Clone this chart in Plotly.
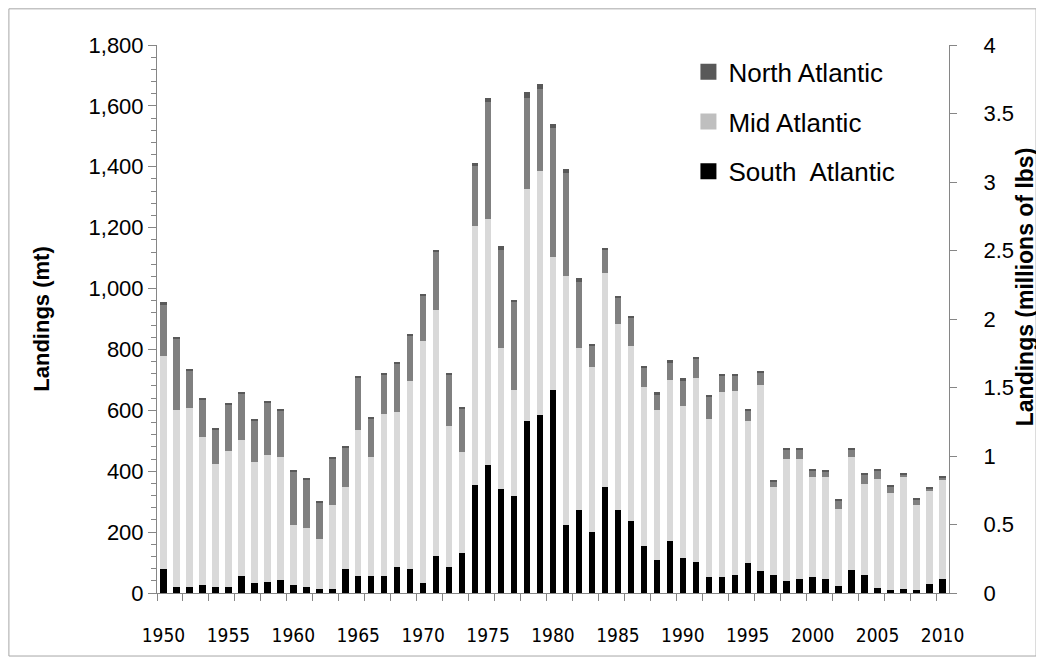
import plotly.graph_objects as go

# ============================================================
# Data (landings in metric tons, by region)
# ============================================================

years = list(range(1950, 2011))

south_atlantic = [
    79, 21, 21, 26, 21, 21, 56, 32, 37, 43,
    26, 21, 14, 14, 79, 56, 56, 56, 84, 79,
    32, 120, 84, 131, 354, 419, 343, 319, 566, 584,
    666, 225, 272, 202, 349, 272, 237, 155, 109, 172,
    114, 102, 53, 52, 59, 100, 72, 59, 41, 47,
    53, 47, 23, 77, 59, 18, 11, 12, 11, 30,
    47,
]

mid_atlantic = [
    698, 579, 586, 486, 404, 444, 445, 398, 417, 403,
    199, 193, 165, 276, 269, 480, 390, 533, 511, 616,
    797, 809, 466, 331, 851, 808, 462, 347, 762, 802,
    438, 815, 533, 539, 703, 610, 575, 521, 491, 529,
    499, 604, 519, 607, 605, 465, 612, 290, 399, 393,
    329, 335, 254, 371, 299, 358, 319, 370, 277, 304,
    324,
]

north_atlantic = [
    168, 236, 124, 124, 112, 154, 153, 137, 171, 155,
    173, 159, 118, 153, 131, 171, 127, 129, 158, 151,
    148, 192, 168, 144, 198, 387, 321, 291, 297, 268,
    423, 340, 216, 69, 74, 88, 91, 62, 53, 56,
    85, 62, 75, 56, 51, 35, 39, 18, 31, 31,
    20, 16, 26, 23, 31, 26, 19, 8, 19, 10,
    8,
]

# thin dark band on top of each bar (not in the legend)
unspecified = [
    11, 5, 5, 5, 5, 5, 5, 5, 5, 5,
    5, 5, 5, 5, 5, 5, 5, 5, 6, 6,
    6, 7, 5, 5, 11, 11, 13, 5, 19, 19,
    12, 12, 14, 8, 7, 5, 8, 8, 6, 7,
    8, 7, 5, 5, 5, 5, 5, 4, 4, 4,
    4, 4, 4, 4, 4, 4, 4, 4, 4, 4,
    4,
]

x_tick_years = list(range(1950, 2011, 5))

FONT = "Liberation Sans, Arial, sans-serif"
NARROW = "Liberation Sans Narrow, DejaVu Sans Condensed, sans-serif"
AXIS_GRAY = "#868686"


# ============================================================
# Figure
# ============================================================

fig = go.Figure()

series = [
    ("South Atlantic", south_atlantic, "#000000"),
    ("Mid Atlantic", mid_atlantic, "#d9d9d9"),
    ("North Atlantic", north_atlantic, "#808080"),
    ("Unspecified", unspecified, "#595959"),
]

for name, values, color in series:
    fig.add_trace(
        go.Bar(
            x=years,
            y=values,
            name=name,
            width=0.5,
            marker=dict(color=color, line=dict(width=0)),
            showlegend=False,
        )
    )

# legend entries (swatch colours as drawn in the key), on the right axis
legend_keys = [
    ("North Atlantic", "#595959"),
    ("Mid Atlantic", "#bfbfbf"),
    ("South  Atlantic", "#000000"),
]

for name, color in legend_keys:
    fig.add_trace(
        go.Scatter(
            x=[None],
            y=[None],
            yaxis="y2",
            mode="markers",
            name=name,
            legendgroup=name,
            marker=dict(symbol="square", size=16, color=color),
        )
    )

fig.update_layout(
    width=1036,
    height=649,
    barmode="stack",
    plot_bgcolor="white",
    paper_bgcolor="white",
    margin=dict(l=149, r=95, t=37, b=64),
    font=dict(family=FONT, size=22, color="#000000"),
    legend=dict(
        x=0.671,
        y=0.994,
        xanchor="left",
        yanchor="top",
        traceorder="grouped",
        tracegroupgap=13,
        font=dict(size=26),
        bgcolor="rgba(0,0,0,0)",
    ),
    shapes=[
        dict(
            type="rect",
            xref="paper",
            yref="paper",
            x0=-0.187,
            x1=1.11,
            y0=-0.115,
            y1=1.066,
            line=dict(color="#a6a6a6", width=1),
            layer="below",
        )
    ],
    annotations=[
        dict(
            text="<b>Landings (millions of lbs)</b>",
            xref="paper",
            yref="paper",
            x=1.096,
            y=0.558,
            xanchor="center",
            yanchor="middle",
            textangle=-90,
            showarrow=False,
            font=dict(size=23),
        )
    ],
)

fig.update_xaxes(
    range=[1949.5, 2010.5],
    tickvals=x_tick_years,
    ticks="",
    ticklabelstandoff=25,
    tickfont=dict(family=NARROW, size=19),
    showgrid=False,
    zeroline=False,
    showline=True,
    linecolor=AXIS_GRAY,
    linewidth=1,
    minor=dict(ticks="outside", tick0=1949.5, dtick=2, ticklen=7, tickcolor=AXIS_GRAY),
)

fig.update_yaxes(
    range=[0, 1800],
    dtick=200,
    tickformat=",",
    ticks="outside",
    ticklen=8,
    tickcolor=AXIS_GRAY,
    showgrid=False,
    zeroline=False,
    showline=True,
    linecolor=AXIS_GRAY,
    linewidth=1,
    minor=dict(ticks="outside", dtick=40, ticklen=5, tickcolor=AXIS_GRAY),
    title=dict(
        text="<b>Landings (mt)</b>",
        font=dict(size=22),
        standoff=32,
    ),
)

fig.update_layout(
    yaxis2=dict(
        overlaying="y",
        side="right",
        range=[0, 4],
        dtick=0.5,
        ticks="outside",
        ticklen=7,
        tickcolor=AXIS_GRAY,
        ticklabelstandoff=22,
        showgrid=False,
        zeroline=False,
        showline=True,
        linecolor=AXIS_GRAY,
        linewidth=1,
    )
)

fig.write_html("out.html")
